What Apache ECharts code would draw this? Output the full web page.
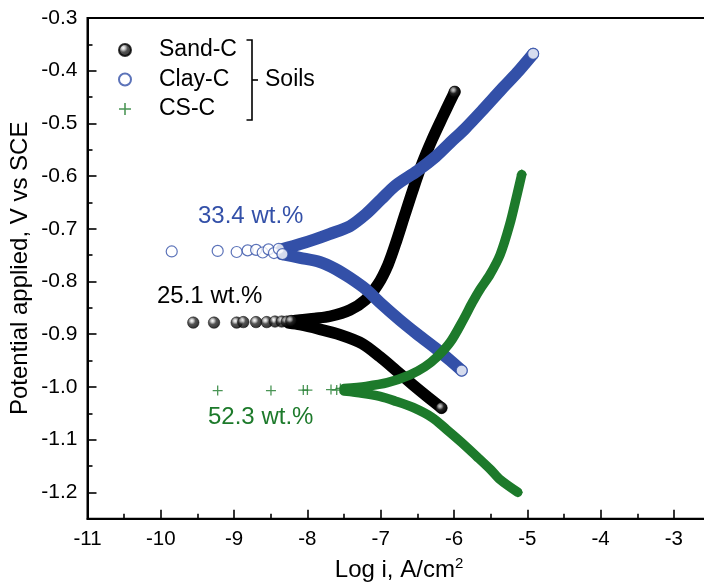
<!DOCTYPE html>
<html><head><meta charset="utf-8">
<script src="https://cdn.jsdelivr.net/npm/echarts@6/dist/echarts.min.js"></script>
<style>html,body{margin:0;padding:0;background:#fff}#c{width:704px;height:583px}</style>
</head><body><div id="c"></div>
<script>
// ---- data (log i, potential V vs SCE) ----
const seriesNames = ['Sand-C', 'Clay-C', 'CS-C'];
const sandSparse = [[-9.557,-0.878],[-9.274,-0.878],[-8.965,-0.878],[-8.874,-0.877],[-8.701,-0.877],[-8.555,-0.877],[-8.442,-0.876],[-8.35,-0.876],[-8.28,-0.876],[-8.22,-0.875],[-5.99,-0.44],[-6.17,-1.04]];
const sandAnodic = [[-8.25,-0.876],[-8.1,-0.873],[-7.9,-0.870],[-7.69,-0.866],[-7.42,-0.854],[-7.21,-0.835],[-7.04,-0.806],[-6.90,-0.768],[-6.78,-0.721],[-6.67,-0.673],[-6.56,-0.626],[-6.44,-0.578],[-6.30,-0.531],[-6.16,-0.489],[-6.06,-0.46],[-5.99,-0.44]];
const sandCathodic = [[-8.25,-0.879],[-8.1,-0.882],[-7.85,-0.890],[-7.555,-0.901],[-7.25,-0.918],[-7.01,-0.943],[-6.78,-0.970],[-6.56,-0.996],[-6.35,-1.02],[-6.17,-1.04]];
const claySparse = [[-9.851,-0.743],[-9.224,-0.742],[-8.965,-0.744],[-8.815,-0.741],[-8.70,-0.740],[-8.61,-0.745],[-8.53,-0.739],[-8.456,-0.746],[-8.39,-0.738],[-8.34,-0.748],[-4.92,-0.368],[-5.895,-0.969]];
const clayAnodic = [[-8.35,-0.739],[-8.1,-0.729],[-7.9,-0.72],[-7.7,-0.71],[-7.42,-0.695],[-7.2,-0.672],[-7.0,-0.645],[-6.8,-0.618],[-6.5,-0.59],[-6.25,-0.563],[-6.055,-0.537],[-5.85,-0.51],[-5.605,-0.474],[-5.35,-0.435],[-5.14,-0.404],[-4.92,-0.368]];
const clayCathodic = [[-8.35,-0.748],[-8.1,-0.755],[-7.83,-0.763],[-7.62,-0.776],[-7.42,-0.793],[-7.2,-0.815],[-7.01,-0.840],[-6.74,-0.873],[-6.5,-0.9],[-6.23,-0.929],[-6.05,-0.95],[-5.895,-0.969]];
const csSparse = [[-9.224,-1.007],[-8.497,-1.007],[-8.056,-1.006],[-8.0,-1.006],[-7.678,-1.005],[-7.60,-1.006],[-7.55,-1.003],[-5.076,-0.597],[-5.13,-1.20]];
const csAnodic = [[-7.5,-1.003],[-7.2,-0.999],[-6.91,-0.992],[-6.60,-0.977],[-6.4,-0.962],[-6.23,-0.943],[-6.05,-0.915],[-5.875,-0.873],[-5.75,-0.84],[-5.65,-0.816],[-5.51,-0.787],[-5.37,-0.749],[-5.24,-0.692],[-5.14,-0.635],[-5.076,-0.597]];
const csCathodic = [[-7.5,-1.008],[-7.25,-1.012],[-7.01,-1.018],[-6.8,-1.027],[-6.56,-1.039],[-6.3,-1.058],[-6.10,-1.081],[-5.9,-1.105],[-5.69,-1.132],[-5.5,-1.157],[-5.37,-1.176],[-5.13,-1.20]];
const annotations = ['25.1 wt.%', '33.4 wt.%', '52.3 wt.%'];
const groupLabel = 'Soils';

// ---- styles ----
const FONT = '"Liberation Sans", Arial, Helvetica, sans-serif';
const BLACK = '#000000', BLUE = '#3350a8', GREEN = '#1d7a2b';
const sphere = {type:'radial', x:0.38, y:0.35, r:0.62, colorStops:[
  {offset:0,color:'#ffffff'},{offset:0.22,color:'#bdbdbd'},{offset:0.5,color:'#2a2a2a'},{offset:1,color:'#000000'}]};
const plusPath = 'path://M4.35,0H5.65V10H4.35Z M0,4.35H10V5.65H0Z';

const chart = echarts.init(document.getElementById('c'), null, {renderer:'canvas'});
const PX = 73.3, PY = 527; // px per unit
const gridLeft = 87.5, gridTop = 18;
const axisLineStyle = {color:'#000', width:2};

function band(name, data, color, width) {
  return {name: name, type:'line', data: data, smooth: 0.3, showSymbol:false, symbol:'none',
    lineStyle:{color: color, width: width, cap:'round', join:'round'}, silent:true, z:2, animation:false};
}

const option = {
  animation:false,
  backgroundColor:'#fff',
  grid:[
    {left:gridLeft, top:gridTop, width:8.5*PX, height:0.95*PY, show:true, borderColor:'#000', borderWidth:2, backgroundColor:'transparent', outerBoundsMode:'none', containLabel:false},
    {left:gridLeft, top:gridTop, width:8.5*PX, height:0.9*PY, show:false, outerBoundsMode:'none', containLabel:false}
  ],
  xAxis:[
    {type:'value', gridIndex:0, min:-11, max:-2.5, interval:1,
      axisLine:{show:true, onZero:false, lineStyle:axisLineStyle},
      axisTick:{show:true, inside:true, length:9, lineStyle:{color:'#000', width:1.6}},
      minorTick:{show:true, splitNumber:2, length:5, lineStyle:{color:'#000', width:1.6}},
      splitLine:{show:false},
      axisLabel:{fontSize:20.5, color:'#000', fontFamily:FONT, margin:10,
        formatter:function(v){ return Number.isInteger(v) ? String(v) : ''; }},
      name:'Log i, A/cm{sup|2}', nameLocation:'middle', nameGap:38,
      nameTextStyle:{fontSize:24, color:'#000', fontFamily:FONT,
        rich:{sup:{fontSize:15, color:'#000', fontFamily:FONT, verticalAlign:'top', padding:[0,0,12,0]}}}
    },
    {type:'value', gridIndex:1, min:-11, max:-2.5, show:false}
  ],
  yAxis:[
    {type:'value', gridIndex:0, min:-1.25, max:-0.3,
      axisLine:{show:true, onZero:false, lineStyle:axisLineStyle},
      axisTick:{show:false}, axisLabel:{show:false}, splitLine:{show:false},
      name:'Potential applied, V vs SCE', nameLocation:'middle', nameGap:55,
      nameTextStyle:{fontSize:24, color:'#000', fontFamily:FONT}
    },
    {type:'value', gridIndex:1, min:-1.2, max:-0.3, interval:0.1,
      axisLine:{show:false, onZero:false},
      axisTick:{show:true, inside:true, length:9, lineStyle:{color:'#000', width:1.6}},
      minorTick:{show:true, splitNumber:2, length:5, lineStyle:{color:'#000', width:1.6}},
      splitLine:{show:false},
      axisLabel:{fontSize:21, color:'#000', fontFamily:FONT, margin:10,
        formatter:function(v){ return v.toFixed(1); }}
    }
  ],
  legend:{
    orient:'vertical', left:118, top:38.5, padding:0, itemWidth:12, itemHeight:12, itemGap:6.5,
    selectedMode:false,
    data:[
      {name:seriesNames[0]},
      {name:seriesNames[1]},
      {name:seriesNames[2]}
    ],
    textStyle:{fontSize:23, color:'#000', fontFamily:FONT, lineHeight:23, padding:[0,0,0,23]}
  },
  series:[
    band('Sand anodic', sandAnodic, BLACK, 11.5),
    band('Sand cathodic', sandCathodic, BLACK, 11.5),
    {name:seriesNames[0], type:'scatter', data:sandSparse, symbol:'circle', symbolSize:11.5,
      itemStyle:{color:sphere, borderColor:'#000', borderWidth:0.6}, z:3, silent:true},
    band('Clay anodic', clayAnodic, BLUE, 12),
    band('Clay cathodic', clayCathodic, BLUE, 12),
    {name:seriesNames[1], type:'scatter', data:claySparse, symbol:'circle', symbolSize:11,
      itemStyle:{color:'#ffffff', borderColor:BLUE, borderWidth:1.2}, z:3, silent:true},
    band('CS anodic', csAnodic, GREEN, 9.5),
    band('CS cathodic', csCathodic, GREEN, 9.5),
    {name:seriesNames[2], type:'scatter', data:csSparse, symbol:plusPath, symbolSize:10,
      itemStyle:{color:GREEN}, z:3, silent:true}
  ],
  graphic:[
    {type:'polyline', shape:{points:[[246.5,40],[252,40],[252,120],[246.5,120]]}, style:{stroke:'#000', lineWidth:1.6, fill:null}, silent:true},
    {type:'line', shape:{x1:252, y1:80, x2:258, y2:80}, style:{stroke:'#000', lineWidth:1.6}, silent:true},
    {type:'text', left:265, top:68, style:{text:groupLabel, fontSize:23, fontFamily:FONT, fill:'#000'}},
    {type:'text', left:157, top:284, style:{text:annotations[0], fontSize:24, fontFamily:FONT, fill:BLACK}},
    {type:'text', left:198, top:204, style:{text:annotations[1], fontSize:24, fontFamily:FONT, fill:BLUE}},
    {type:'text', left:208, top:405, style:{text:annotations[2], fontSize:24, fontFamily:FONT, fill:GREEN}}
  ]
};
chart.setOption(option);
</script>
</body></html>
